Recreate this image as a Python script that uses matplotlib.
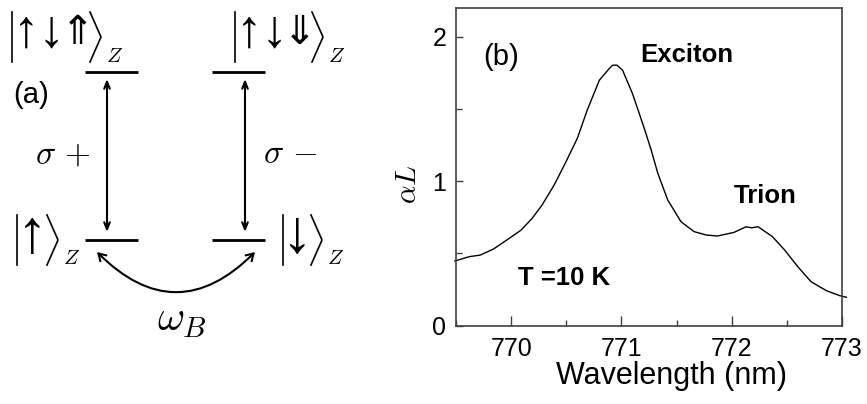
import numpy as np
import matplotlib
matplotlib.use("Agg")
import matplotlib.pyplot as plt
from matplotlib.patches import FancyArrowPatch
from matplotlib.ticker import MultipleLocator

plt.rcParams['font.family'] = ['Liberation Sans', 'DejaVu Sans']
plt.rcParams['mathtext.fontset'] = 'cm'

# absorption spectrum
wavelength = [769.49, 769.62, 769.72, 769.84, 769.96, 770.09, 770.19, 770.28,
              770.39, 770.49, 770.60, 770.69, 770.80, 770.89, 770.92, 770.96,
              771.01, 771.10, 771.21, 771.27, 771.33, 771.42, 771.54, 771.66,
              771.77, 771.87, 772.02, 772.13, 772.18, 772.24, 772.37, 772.48,
              772.60, 772.72, 772.86, 772.98, 773.04]
alpha_l = [0.448, 0.478, 0.489, 0.531, 0.593, 0.662, 0.743, 0.835,
           0.974, 1.124, 1.297, 1.493, 1.700, 1.781, 1.804, 1.804,
           1.770, 1.608, 1.360, 1.216, 1.055, 0.870, 0.720, 0.651,
           0.628, 0.621, 0.646, 0.685, 0.678, 0.685, 0.616, 0.524,
           0.408, 0.304, 0.242, 0.208, 0.197]
x_ticks = [770, 771, 772, 773]
y_ticks = [0, 1, 2]

# level scheme of panel (a), in pixel units of the left panel
level_left = (85, 138)
level_right = (212, 265)
level_top = 72
level_bottom = 240

# kets: bar x, bracket x (open side), top y, bottom y, electron spins,
# hole spin (or None)
ket_bar_x = [12, 235, 17, 283]
ket_bracket_x = [90, 312, 47, 311]
ket_top = [12, 12, 215, 215]
ket_bot = [62, 62, 265, 265]
ket_spins = ['↑↓', '↑↓', '↑', '↓']
ket_holes = ['⇑', '⇓', None, None]

fig = plt.figure(figsize=(8.67, 4.04), dpi=100)

# ---- panel (a): level diagram ----
ax0 = fig.add_axes([0, 0, 380 / 867, 1])
ax0.set_xlim(0, 380)
ax0.set_ylim(404, 0)
ax0.axis('off')

for xs in (level_left, level_right):
    for y in (level_top, level_bottom):
        ax0.plot(xs, [y, y], color='black', lw=2, solid_capstyle='butt')

for xv in (107, 245):
    ax0.annotate('', xy=(xv, level_top + 7), xytext=(xv, level_bottom - 8),
                 arrowprops=dict(arrowstyle='<->,head_length=0.5,head_width=0.2',
                                 color='black', lw=1.5, shrinkA=0, shrinkB=0))

ax0.add_patch(FancyArrowPatch((97, 252), (255, 252),
                              connectionstyle='arc3,rad=0.5',
                              arrowstyle='<->,head_length=5,head_width=3',
                              color='black', lw=1.5, shrinkA=0, shrinkB=0))

for bx, kx, t, b, spins, hole in zip(ket_bar_x, ket_bracket_x, ket_top,
                                     ket_bot, ket_spins, ket_holes):
    mid = (t + b) / 2
    ax0.plot([bx, bx], [t, b], color='black', lw=1.2)
    ax0.plot([kx, kx + 11, kx], [t, mid, b], color='black', lw=1.2)
    if hole:
        ax0.text(bx + 1, mid - 4, spins, fontsize=38, ha='left', va='center')
        ax0.text(kx - 12, mid - 4, hole, fontsize=29, family='DejaVu Sans',
                 ha='center', va='center')
    else:
        ax0.text((bx + kx) / 2, mid - 4, spins, fontsize=44,
                 ha='center', va='center')
    ax0.text(kx + 16, b - 6, r'$Z$', fontsize=15, ha='left', va='center')

ax0.text(13, 95, '(a)', fontsize=21, ha='left', va='center')
ax0.text(35, 155, r'$\sigma\,+$', fontsize=24, ha='left', va='center')
ax0.text(263, 155, r'$\sigma\,-$', fontsize=24, ha='left', va='center')
ax0.text(157, 320, r'$\omega_B$', fontsize=30, ha='left', va='center')

# ---- panel (b): spectrum ----
ax = fig.add_axes([456 / 867, (404 - 325.7) / 404, 386 / 867, 317.7 / 404])
ax.plot(wavelength, alpha_l, color='black', lw=1, clip_on=False)
ax.set_xlim(769.5, 773)
ax.set_ylim(0, 2.2)
ax.set_xticks(x_ticks)
ax.set_yticks(y_ticks)
ax.xaxis.set_minor_locator(MultipleLocator(0.5))
ax.yaxis.set_minor_locator(MultipleLocator(0.5))
ax.tick_params(axis='x', which='major', direction='in', length=7, width=1,
               labelsize=18, pad=8, color='#404040')
ax.tick_params(axis='x', which='minor', direction='in', length=4, width=1,
               color='#404040')
ax.tick_params(axis='y', which='major', direction='in', length=5, width=1,
               labelsize=18, pad=7, color='#404040')
ax.tick_params(axis='y', which='minor', direction='in', length=4, width=1,
               color='#404040')
for sp in ax.spines.values():
    sp.set_color('#404040')
    sp.set_linewidth(1.2)

ax.set_xlabel('Wavelength (nm)', fontsize=22)
ax.xaxis.set_label_coords(0.557, -0.112)
ax.set_ylabel(r'$\alpha L$', fontsize=21)
ax.yaxis.set_label_coords(-0.088, 0.446)

ax.text(769.745, 1.804, '(b)', fontsize=21, ha='left', va='baseline')
ax.text(771.17, 1.827, 'Exciton', fontsize=18.5, fontweight='bold',
        ha='left', va='baseline')
ax.text(772.015, 0.849, 'Trion', fontsize=18.5, fontweight='bold',
        ha='left', va='baseline')
ax.text(770.06, 0.282, 'T =10 K', fontsize=18.5, fontweight='bold',
        ha='left', va='baseline')

fig.savefig('out.png', dpi=100)
